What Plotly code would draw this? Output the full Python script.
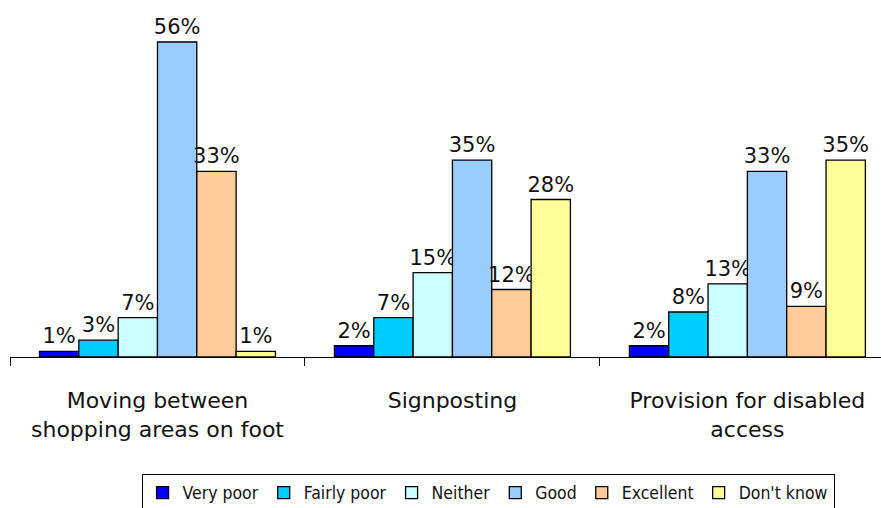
import plotly.graph_objects as go

categories = ["Moving between<br>shopping areas on foot", "Signposting", "Provision for disabled<br>access"]
series_names = ["Very poor", "Fairly poor", "Neither", "Good", "Excellent", "Don't know"]
very_poor = [1, 2, 2]
fairly_poor = [3, 7, 8]
neither = [7, 15, 13]
good = [56, 35, 33]
excellent = [33, 12, 9]
dont_know = [1, 28, 35]
colors = ["#0000FF", "#00CCFF", "#CCFFFF", "#99CCFF", "#FFCC99", "#FFFF99"]

values = [very_poor, fairly_poor, neither, good, excellent, dont_know]

font_main = "DejaVu Sans"

fig = go.Figure()
for name, vals, col in zip(series_names, values, colors):
    fig.add_trace(go.Bar(
        name=name,
        x=categories,
        y=vals,
        marker=dict(color=col, line=dict(color="black", width=1.3)),
        text=[f"{v}%" for v in vals],
        textposition="outside",
        constraintext="none",
        textfont=dict(family=font_main, size=21, color="#111111"),
        cliponaxis=False,
    ))

fig.update_layout(
    width=881,
    height=508,
    barmode="group",
    bargap=0.2,
    bargroupgap=0,
    plot_bgcolor="white",
    paper_bgcolor="white",
    margin=dict(l=10, r=0, t=0, b=151),
    font=dict(family=font_main, color="#111111"),
    showlegend=True,
    legend=dict(
        orientation="h",
        xref="container", yref="container",
        x=0.554, xanchor="center",
        y=0.03, yanchor="middle",
        bordercolor="black", borderwidth=1,
        font=dict(family="DejaVu Sans Condensed", size=17.5, color="#111111"),
        itemwidth=30,
        traceorder="normal",
    ),
    xaxis=dict(
        range=[-0.5, 2.453],
        showline=True, linecolor="black", linewidth=1,
        ticks="outside", tickson="boundaries", ticklen=8, tickcolor="black",
        ticklabelstandoff=24,
        tickfont=dict(family=font_main, size=22, color="#111111"),
        showgrid=False,
    ),
    yaxis=dict(range=[0, 63.47], visible=False, showgrid=False),
)

fig.write_html("out.html")
